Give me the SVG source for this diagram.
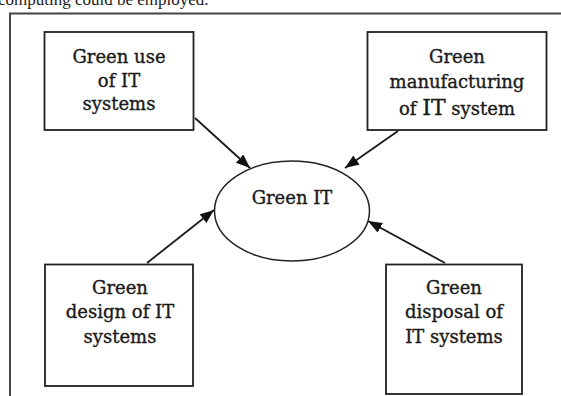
<svg xmlns="http://www.w3.org/2000/svg" width="561" height="396" viewBox="0 0 561 396">
  <style>
    .box { fill: #ffffff; stroke: #222222; stroke-width: 1.8; }
    .oval { fill: #ffffff; stroke: #222222; stroke-width: 1.5; }
    .label { font-family: "DejaVu Serif", "Liberation Serif", serif; font-size: 18px; fill: #1a1a1a; stroke: #1a1a1a; stroke-width: 0.35; text-anchor: middle; }
    .big { font-size: 22px; }
    .edge { stroke: #1a1a1a; stroke-width: 1.8; fill: none; marker-end: url(#head); }
    .frame { fill: none; stroke: #444444; stroke-width: 2; }
    .body { font-family: "Liberation Serif", "Times New Roman", serif; font-size: 17px; fill: #1a1a1a; }
  </style>
  <defs>
    <marker id="head" markerUnits="userSpaceOnUse" markerWidth="14" markerHeight="11" refX="14" refY="5.5" orient="auto">
      <path d="M0,0 L14,5.5 L0,11 z" fill="#111111"/>
    </marker>
  </defs>

  <rect width="561" height="396" fill="#ffffff"/>

  <!-- running text above the figure, clipped by the page edge -->
  <text class="body" x="-2" y="5">computing could be employed.</text>

  <!-- figure frame -->
  <path class="frame" d="M10,397 V13.5 H562"/>

  <!-- connectors -->
  <g id="connectors">
    <line class="edge" x1="195" y1="118" x2="250" y2="168"/>
    <line class="edge" x1="398" y1="131" x2="345" y2="168"/>
    <line class="edge" x1="147" y1="263" x2="214" y2="210"/>
    <line class="edge" x1="445" y1="263" x2="368" y2="221"/>
  </g>

  <g id="green-it">
    <ellipse class="oval" cx="292" cy="211" rx="77.5" ry="50"/>
    <text class="label" x="292" y="204">Green IT</text>
  </g>

  <g id="green-use">
    <rect class="box" x="44.5" y="32" width="149" height="98"/>
    <text class="label" x="119" y="63">Green use</text>
    <text class="label" x="119" y="87">of IT</text>
    <text class="label" x="119" y="110">systems</text>
  </g>

  <g id="green-manufacturing">
    <rect class="box" x="367.5" y="32" width="179" height="98"/>
    <text class="label" x="457" y="63">Green</text>
    <text class="label" x="457" y="88">manufacturing</text>
    <text class="label" x="457" y="115">of <tspan class="big">IT</tspan> system</text>
  </g>

  <g id="green-design">
    <rect class="box" x="45" y="264.5" width="148" height="121.5"/>
    <text class="label" x="120" y="294">Green</text>
    <text class="label" x="120" y="318">design of IT</text>
    <text class="label" x="120" y="343">systems</text>
  </g>

  <g id="green-disposal">
    <rect class="box" x="386" y="264.5" width="136" height="129.5"/>
    <text class="label" x="454" y="294">Green</text>
    <text class="label" x="454" y="318">disposal of</text>
    <text class="label" x="454" y="343">IT systems</text>
  </g>
</svg>
